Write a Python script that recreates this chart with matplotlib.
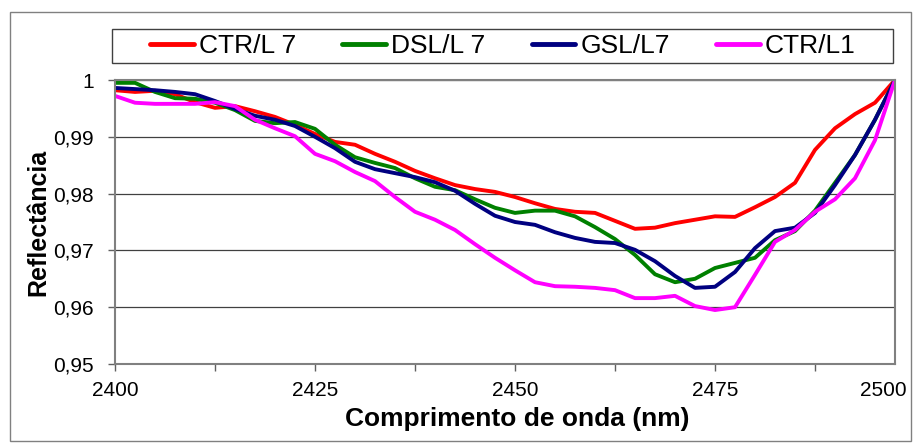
import matplotlib
matplotlib.use('Agg')
import matplotlib.pyplot as plt
from matplotlib.ticker import FuncFormatter
from matplotlib.patches import Rectangle

plt.rcParams['font.family'] = ['Liberation Sans', 'DejaVu Sans']

# wavelength (nm), every 2.5 nm
wavelength = [2400, 2402.5, 2405, 2407.5, 2410, 2412.5, 2415, 2417.5, 2420, 2422.5,
              2425, 2427.5, 2430, 2432.5, 2435, 2437.5, 2440, 2442.5, 2445, 2447.5,
              2450, 2452.5, 2455, 2457.5, 2460, 2462.5, 2465, 2467.5, 2470, 2472.5,
              2475, 2477.5, 2480, 2482.5, 2485, 2487.5, 2490, 2492.5, 2495, 2497.5]

ctr_l7 = [0.9982, 0.9979, 0.9981, 0.9975, 0.9961, 0.9951, 0.9954, 0.9945, 0.9935, 0.9921,
          0.9905, 0.9891, 0.9886, 0.9870, 0.9856, 0.9840, 0.9827, 0.9815, 0.9808, 0.9803,
          0.9794, 0.9783, 0.9773, 0.9768, 0.9766, 0.9752, 0.9738, 0.9740, 0.9748, 0.9754,
          0.9760, 0.9759, 0.9776, 0.9794, 0.9819, 0.9877, 0.9915, 0.9940, 0.9960, 1.0]

dsl_l7 = [0.9995, 0.9995, 0.9979, 0.9968, 0.9967, 0.9960, 0.9947, 0.9928, 0.9924, 0.9926,
          0.9914, 0.9886, 0.9864, 0.9854, 0.9845, 0.9827, 0.9812, 0.9806, 0.9790, 0.9775,
          0.9766, 0.9770, 0.9770, 0.9760, 0.9741, 0.9720, 0.9692, 0.9658, 0.9644, 0.9650,
          0.9669, 0.9678, 0.9687, 0.9718, 0.9734, 0.9770, 0.9819, 0.9868, 0.9930, 1.0]

gsl_l7 = [0.9986, 0.9984, 0.9982, 0.9979, 0.9975, 0.9963, 0.9949, 0.9937, 0.9930, 0.9919,
          0.9900, 0.9880, 0.9856, 0.9843, 0.9836, 0.9829, 0.9820, 0.9805, 0.9782, 0.9761,
          0.9750, 0.9745, 0.9732, 0.9722, 0.9715, 0.9713, 0.9701, 0.9681, 0.9655, 0.9634,
          0.9636, 0.9662, 0.9704, 0.9734, 0.9740, 0.9766, 0.9815, 0.9868, 0.9930, 1.0]

ctr_l1 = [0.9972, 0.9960, 0.9958, 0.9958, 0.9958, 0.9961, 0.9954, 0.9930, 0.9915, 0.9901,
          0.9870, 0.9857, 0.9838, 0.9822, 0.9794, 0.9768, 0.9754, 0.9736, 0.9711, 0.9687,
          0.9665, 0.9644, 0.9637, 0.9636, 0.9634, 0.9630, 0.9616, 0.9616, 0.9620, 0.9602,
          0.9595, 0.9600, 0.9657, 0.9715, 0.9736, 0.9768, 0.9790, 0.9827, 0.9894, 1.0]

labels = ['CTR/L 7', 'DSL/L 7', 'GSL/L7', 'CTR/L1']
colors = ['#ff0000', '#008000', '#000080', '#ff00ff']
y_ticks = [0.95, 0.96, 0.97, 0.98, 0.99, 1.0]

fig = plt.figure(figsize=(9.19, 4.43), dpi=100)
ax = fig.add_axes([115 / 919, 79 / 443, 780 / 919, 284 / 443])

for vals, lab, col in zip([ctr_l7, dsl_l7, gsl_l7, ctr_l1], labels, colors):
    ax.plot(wavelength, vals, color=col, lw=2.8, label=lab,
            solid_joinstyle='round', solid_capstyle='round')

ax.set_xlim(2400, 2497.5)
ax.set_ylim(0.95, 1.0)

# x axis: labels every 25 nm, tick marks every 12.5 nm
ax.set_xticks([2400, 2425, 2450, 2475])
ax.set_xticks([2412.5, 2437.5, 2462.5, 2487.5], minor=True)
ax.tick_params(axis='x', which='both', direction='out', length=5, width=1,
               color='#606060', labelsize=15, pad=7)
# last label sits at the right edge of the chart, as in the original
ax.annotate('2500', xy=(2496, 0), xycoords=('data', 'axes fraction'),
            xytext=(0, -12), textcoords='offset points', ha='center', va='top',
            fontsize=15, annotation_clip=False)

ax.set_yticks(y_ticks)
ax.yaxis.set_major_formatter(FuncFormatter(
    lambda v, _: '1' if abs(v - 1) < 1e-9 else f'{v:.2f}'.replace('.', ',')))
ax.tick_params(axis='y', direction='out', length=5, width=1,
               color='#606060', labelsize=15, pad=10)

ax.yaxis.grid(True, color='#404040', lw=0.9)
ax.set_axisbelow(True)
for side in ['left', 'right', 'bottom', 'top']:
    ax.spines[side].set_color('#808080')
    ax.spines[side].set_linewidth(1.5)

ax.set_xlabel('Comprimento de onda (nm)', fontsize=19, fontweight='bold')
ax.xaxis.set_label_coords(0.516, -0.151)
ax.set_ylabel('Reflectância', fontsize=18, fontweight='bold')
ax.yaxis.set_label_coords(-0.083, 0.5)

# legend above the plot, with its own box
leg = fig.legend(loc='center', bbox_to_anchor=(503 / 919, 1 - 46 / 443), ncol=4,
                 frameon=False, fontsize=19, handlelength=1.65, handletextpad=0.2,
                 columnspacing=1.75)
for line in leg.get_lines():
    line.set_linewidth(3.5)
fig.patches.append(Rectangle((112 / 919, 1 - 63 / 443), 781 / 919, 34 / 443,
                             transform=fig.transFigure, fill=False,
                             ec='#404040', lw=1))
# outer chart border
fig.patches.append(Rectangle((10 / 919, 1 - 441 / 443), 901 / 919, 429 / 443,
                             transform=fig.transFigure, fill=False,
                             ec='#808080', lw=1))

fig.savefig('out.png', dpi=100)
